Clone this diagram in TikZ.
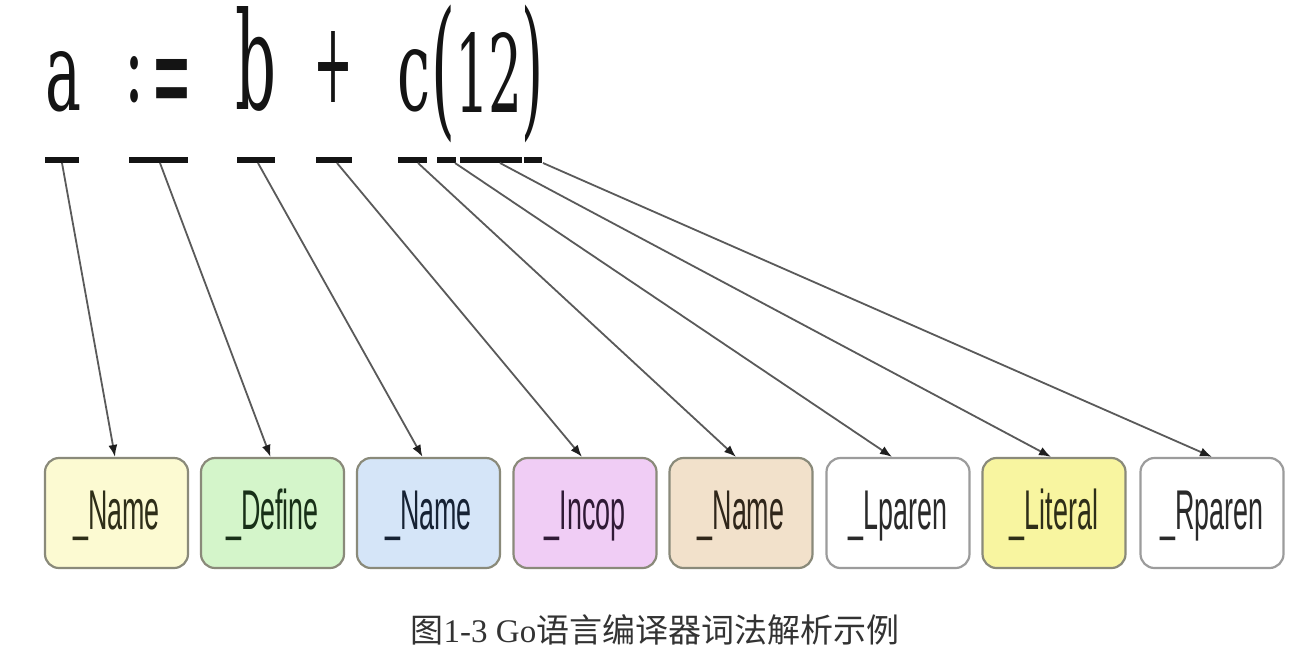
\documentclass[tikz,border=0pt]{standalone}
\usepackage{fontspec}
\usepackage{graphicx}
\setmainfont{Liberation Serif}
\newfontfamily\boxfont{Liberation Sans}
\newfontfamily\srcfont{DejaVu Serif}
\newfontfamily\cjk{Noto Sans CJK SC}
\usetikzlibrary{arrows.meta}
\definecolor{bordergray}{HTML}{8A8A7A}
\definecolor{lightborder}{HTML}{9C9C9C}
\definecolor{fillA}{HTML}{FCFAD2}
\definecolor{fillB}{HTML}{D4F5CA}
\definecolor{fillC}{HTML}{D5E5F8}
\definecolor{fillD}{HTML}{F0CDF5}
\definecolor{fillE}{HTML}{F2E1CB}
\definecolor{fillG}{HTML}{F8F5A0}
\definecolor{txtA}{HTML}{2E2E18}
\definecolor{txtB}{HTML}{183018}
\definecolor{txtC}{HTML}{162234}
\definecolor{txtD}{HTML}{301A36}
\definecolor{txtE}{HTML}{30261A}
\definecolor{txtF}{HTML}{2A2A2A}
\definecolor{linegray}{HTML}{5A5A5A}
\definecolor{capgray}{HTML}{333333}
\tikzset{
  tok/.style={inner sep=0pt, anchor=south, text={black!92},
    font=\srcfont\fontsize{20}{20}\selectfont},
  uline/.style={line width=6pt, draw={black!92}},
  tokbox/.style={draw=bordergray, line width=2.2pt, rounded corners=14pt,
    minimum width=143pt, minimum height=110pt, inner sep=0pt,
    text height=40pt, text depth=8pt,
    font=\boxfont\fontsize{56}{56}\selectfont},
  conn/.style={draw=linegray, line width=1.8pt,
    -{Latex[length=12pt,width=9pt,color=black!88]}},
  caption/.style={inner sep=0pt, text=capgray, font=\fontsize{33}{33}\selectfont}
}
\newcommand{\sq}[1]{\scalebox{0.48}[1]{#1}}
\begin{document}
\begin{tikzpicture}[x=1pt,y=-1pt]
\useasboundingbox (0,0) rectangle (1303,659);
\fill[white] (0,0) rectangle (1303,659);

% source tokens (each glyph sized to the reference's ink box)
\node[tok] (ta)   at (64,112.5)  {\resizebox{36pt}{59pt}{a}};
\node[tok] (tcol) at (134,103) {\resizebox{20pt}{45pt}{:}};
\node[tok] (teq)  at (172,124) {\resizebox{41pt}{64pt}{=}};
\node[tok] (tb)   at (256,112) {\resizebox{41pt}{103pt}{b}};
\node[tok] (tpl)  at (333,103) {\resizebox{40pt}{71pt}{+}};
\node[tok] (tc)   at (414,112.5) {\resizebox{33pt}{61pt}{c}};
\node[tok] (tlp)  at (443,143) {\resizebox*{24pt}{138pt}{(}};
\node[tok] (t12)  at (489,112.5) {\resizebox{68pt}{80pt}{12}};
\node[tok] (trp)  at (532,143) {\resizebox*{22pt}{138pt}{)}};

% underscores
\draw[uline] (45,160) -- (79,160);
\draw[uline] (129,160) -- (188,160);
\draw[uline] (237,160) -- (275,160);
\draw[uline] (316,160) -- (352,160);
\draw[uline] (398,160) -- (427,160);
\draw[uline] (437,160) -- (456,160);
\draw[uline] (460,160) -- (522,160);
\draw[uline] (524,160) -- (542,160);

\coordinate (u1) at (62,163);
\coordinate (u2) at (160,163);
\coordinate (u3) at (258,163);
\coordinate (u4) at (337,163);
\coordinate (u5) at (418,163);
\coordinate (u6) at (455,163);
\coordinate (u7) at (500,163);
\coordinate (u8) at (543,163);

% token boxes
\node[tokbox, fill=fillA, text=txtA] (b1) at (116.5,513) {\sq{\_Name}};
\node[tokbox, fill=fillB, text=txtB] (b2) at (272.5,513) {\sq{\_Define}};
\node[tokbox, fill=fillC, text=txtC] (b3) at (428.5,513) {\sq{\_Name}};
\node[tokbox, fill=fillD, text=txtD] (b4) at (585,513) {\sq{\_Incop}};
\node[tokbox, fill=fillE, text=txtE] (b5) at (741,513) {\sq{\_Name}};
\node[tokbox, fill=white, draw=lightborder, text=txtF] (b6) at (898,513) {\sq{\_Lparen}};
\node[tokbox, fill=fillG, text=txtA] (b7) at (1054,513) {\sq{\_Literal}};
\node[tokbox, fill=white, draw=lightborder, text=txtF] (b8) at (1212,513) {\sq{\_Rparen}};

% connectors
\draw[conn] (u1) -- ([xshift=-1.5pt]b1.north);
\draw[conn] (u2) -- ([xshift=-2pt]b2.north);
\draw[conn] (u3) -- ([xshift=-6pt]b3.north);
\draw[conn] (u4) -- ([xshift=-3pt]b4.north);
\draw[conn] (u5) -- ([xshift=-5pt]b5.north);
\draw[conn] (u6) -- ([xshift=-6pt]b6.north);
\draw[conn] (u7) -- ([xshift=-3pt]b7.north);
\draw[conn] (u8) -- (b8.north);

% caption
\node[caption] (cap) at (655,630) {{\cjk 图}1-3 Go{\cjk 语言编译器词法解析示例}};
\end{tikzpicture}
\end{document}
